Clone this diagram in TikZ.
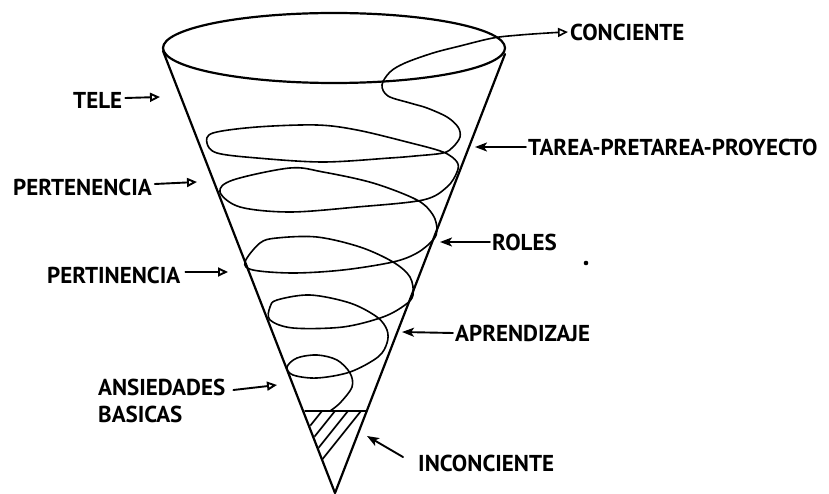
\documentclass[tikz,border=0pt]{standalone}
\usepackage{fontspec}
\setmainfont{PT Sans}
\usetikzlibrary{arrows.meta}
\begin{document}
\begin{tikzpicture}[x=1pt,y=-1pt,
  lbl/.style={font=\bfseries\fontsize{23}{27}\selectfont, inner sep=0pt, anchor=west},
  ink/.style={line width=1.9pt, line cap=round, line join=round},
  openarrow/.style={ink, -{Triangle[open, length=10pt, width=9pt]}},
  fillarrow/.style={ink, -{Stealth[length=12pt, width=9pt, inset=3pt]}}]
\useasboundingbox (0,0) rectangle (829,494);
% cone
\coordinate (apex) at (335,493);
\coordinate (lrim) at (163,51);
\coordinate (rrim) at (505,54);
\draw[ink, line width=2.2pt] (334,48) ellipse [x radius=171, y radius=35];
\draw[ink, line width=2.2pt] (lrim) -- (apex) -- (rrim);
% unconscious base
\coordinate (hl) at (305,411);
\coordinate (hr) at (367,411);
\draw[ink] (hl) -- (hr);
\begin{scope}
  \clip (hl) -- (hr) -- (apex) -- cycle;
  \foreach \xt in {322,335,348,361}
    \draw[ink, line width=1.7pt] (\xt,411) -- ++(-64,80);
\end{scope}
% labels
\node[lbl] (tele) at (73,100) {TELE};
\node[lbl] (perte) at (13,187) {PERTENENCIA};
\node[lbl] (perti) at (47,275) {PERTINENCIA};
\node[lbl, align=left] (ansi) at (98,401) {ANSIEDADES\\BASICAS};
\node[lbl] (conc) at (570,32) {CONCIENTE};
\node[lbl] (tarea) at (528,147) {TAREA-PRETAREA-PROYECTO};
\node[lbl] (roles) at (492,242) {ROLES};
\node[lbl] (apre) at (455,333) {APRENDIZAJE};
\node[lbl] (inco) at (418,463) {INCONCIENTE};
% arrow tips
\coordinate (teleT) at (160,97);
\coordinate (perteT) at (197,182);
\coordinate (pertiT) at (228,272);
\coordinate (ansiT) at (277,385);
\coordinate (tareaT) at (475,147);
\coordinate (rolesT) at (440,242);
\coordinate (apreT) at (402,332);
\coordinate (incoT) at (367,436);
\draw[openarrow] ([shift={(3,-2)}]tele.east) -- (teleT);
\draw[openarrow] ([shift={(3,-3)}]perte.east) -- (perteT);
\draw[openarrow] ([shift={(5,-3)}]perti.east) -- (pertiT);
\draw[openarrow] ([shift={(8,-11)}]ansi.east) -- (ansiT);
\draw[fillarrow] ([xshift=-2]tarea.west) -- (tareaT);
\draw[fillarrow] ([xshift=-2]roles.west) -- (rolesT);
\draw[fillarrow] ([xshift=-2]apre.west) -- (apreT);
\draw[fillarrow] ([shift={(-15,-6)}]inco.west) -- (incoT);
% spiral
\draw[ink, line width=1.6pt, {Triangle[open, length=10pt, width=9pt]}-]
  plot[smooth, tension=0.55] coordinates {
  ([xshift=-2]conc.west) (548,33) (520,35) (493,38) (460,46) (433,53) (405,63)
  (390,72) (382,85) (388,96) (410,103) (427,108) (447,117) (458,127)
  (460,137) (453,147) (443,153) (415,156) (390,158) (323,162) (257,158)
  (217,153) (207,143) (213,133) (257,127) (317,125) (357,130) (407,142)
  (443,152) (457,162) (457,172) (447,187) (423,200) (357,207) (290,212)
  (240,207) (220,192) (233,180) (290,168) (323,172) (373,183) (417,200)
  (433,215) (437,230) (433,240) (417,253) (393,262) (343,270) (293,273)
  (253,270) (245,262) (260,243) (277,238) (317,237) (360,247) (393,262)
  (410,277) (413,295) (405,305) (383,317) (343,327) (293,328) (270,320)
  (270,307) (277,300) (310,295) (350,303) (377,317) (387,330) (387,343)
  (378,357) (350,372) (317,378) (293,375) (287,367) (297,358) (317,355)
  (337,360) (350,373) (352,387) (340,403) (330,411)};
% stray dot
\fill (586,263) circle (2.3);
\end{tikzpicture}
\end{document}
